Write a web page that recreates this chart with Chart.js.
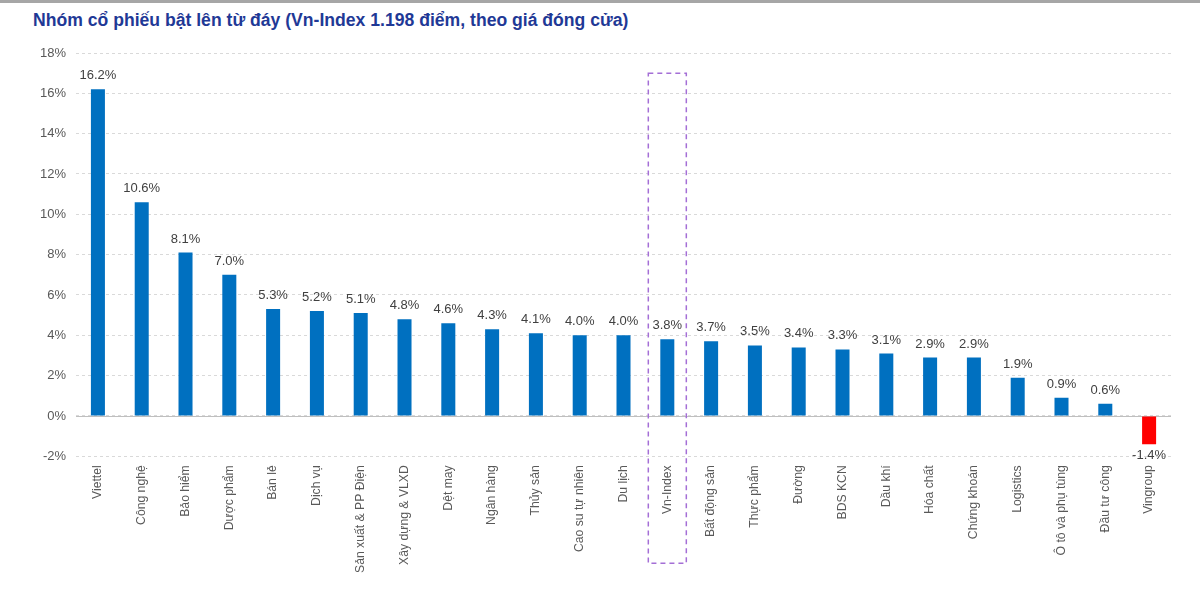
<!DOCTYPE html>
<html>
<head>
<meta charset="utf-8">
<script src="https://cdn.jsdelivr.net/npm/chart.js@4.4.1/dist/chart.umd.min.js"></script>
<style>
  body { margin: 0; background: #fff; width: 1200px; height: 608px; overflow: hidden; position: relative; font-family: Arial, "Liberation Sans", sans-serif; }
  #topline { position: absolute; left: 0; top: 0; width: 1200px; height: 3px; background: #a6a6a6; }
  #title { position: absolute; left: 33px; top: 10px; font-size: 17.6px; font-weight: bold; color: #1f3996; }
  #wrap { position: absolute; left: 0; top: 0; width: 1200px; height: 608px; }
</style>
</head>
<body>
<div id="topline"></div>
<div id="title">Nhóm cổ phiếu bật lên từ đáy (Vn-Index 1.198 điểm, theo giá đóng cửa)</div>
<div id="wrap"><canvas id="_canvasc"></canvas></div>
<script>
	// ******************************************************** DATA
	var categories = ["Viettel", "Công nghệ", "Bảo hiểm", "Dược phẩm", "Bán lẻ", "Dịch vụ",
		"Sản xuất & PP Điện", "Xây dựng & VLXD", "Dệt may", "Ngân hàng", "Thủy sản",
		"Cao su tự nhiên", "Du lịch", "Vn-Index", "Bất động sản", "Thực phẩm", "Đường",
		"BDS KCN", "Dầu khí", "Hóa chất", "Chứng khoán", "Logistics", "Ô tô và phụ tùng",
		"Đầu tư công", "Vingroup"];
	var changes = [16.2, 10.6, 8.1, 7.0, 5.3, 5.2, 5.1, 4.8, 4.6, 4.3, 4.1, 4.0, 4.0,
		3.8, 3.7, 3.5, 3.4, 3.3, 3.1, 2.9, 2.9, 1.9, 0.9, 0.6, -1.4];
	var yTicks = [-2, 0, 2, 4, 6, 8, 10, 12, 14, 16, 18];
	var highlight = "Vn-Index";

	var barColors = changes.map(function (v) { return v < 0 ? "#ff0000" : "#0070c0"; });
	var FONT = 'Arial, "Liberation Sans", sans-serif';

	// ******************************************************** PLUGINS
	var valueLabels = {
		id: 'valueLabels',
		afterDatasetsDraw: function (chart) {
			var ctx = chart.ctx;
			var meta = chart.getDatasetMeta(0);
			ctx.save();
			ctx.font = '13px ' + FONT;
			ctx.fillStyle = '#404040';
			ctx.textAlign = 'center';
			meta.data.forEach(function (bar, i) {
				var v = changes[i];
				if (v >= 0) {
					ctx.textBaseline = 'bottom';
					ctx.fillText(v.toFixed(1) + '%', bar.x, bar.y - 7);
				} else {
					ctx.textBaseline = 'top';
					ctx.fillText(v.toFixed(1) + '%', bar.x, bar.y + 5);
				}
			});
			ctx.restore();
		}
	};

	var extras = {
		id: 'extras',
		beforeDatasetsDraw: function (chart) {
			var ctx = chart.ctx, y = chart.scales.y;
			ctx.save();
			ctx.strokeStyle = '#bfbfbf';
			ctx.lineWidth = 1;
			ctx.beginPath();
			var y0 = Math.round(y.getPixelForValue(0)) + 0.5;
			ctx.moveTo(chart.chartArea.left, y0);
			ctx.lineTo(chart.chartArea.right, y0);
			ctx.stroke();
			ctx.restore();
		},
		afterDraw: function (chart) {
			var ctx = chart.ctx, x = chart.scales.x, y = chart.scales.y;
			var cx = x.getPixelForValue(categories.indexOf(highlight));
			var top = y.getPixelForValue(17);
			var bottom = chart.chartArea.bottom + 107;
			ctx.save();
			ctx.strokeStyle = '#a46fd6';
			ctx.lineWidth = 1.5;
			ctx.setLineDash([5, 4]);
			ctx.strokeRect(cx - 19, top, 38, bottom - top);
			ctx.restore();
		}
	};

	// ******************************************************** CHART
	var _canvasc = document.getElementById("_canvasc");
	var _ctxc = _canvasc.getContext("2d");

	var config = {
		type: 'bar',
		data: {
			labels: categories,
			datasets: [{
				data: changes,
				backgroundColor: barColors,
				barPercentage: 0.32,
				categoryPercentage: 1.0
			}]
		},
		options: {
			responsive: true,
			maintainAspectRatio: false,
			animation: false,
			layout: { padding: { top: 53, left: 30, right: 29, bottom: 34 } },
			plugins: { legend: { display: false }, tooltip: { enabled: false } },
			scales: {
				x: {
					grid: { display: false },
					border: { display: false },
					ticks: {
						color: '#595959',
						font: { family: FONT, size: 12.2 },
						minRotation: 90, maxRotation: 90, autoSkip: false, padding: 1
					}
				},
				y: {
					min: -2, max: 18,
					afterBuildTicks: function (axis) { axis.ticks = yTicks.map(function (v) { return { value: v }; }); },
					grid: { color: '#d9d9d9', drawTicks: false },
					border: { display: false, dash: [3, 3] },
					ticks: {
						color: '#595959',
						padding: 10,
						font: { family: FONT, size: 13 },
						callback: function (v) { return v + '%'; }
					}
				}
			}
		},
		plugins: [valueLabels, extras]
	};

	window.myBar = new Chart(_ctxc, config);
</script>
</body>
</html>
